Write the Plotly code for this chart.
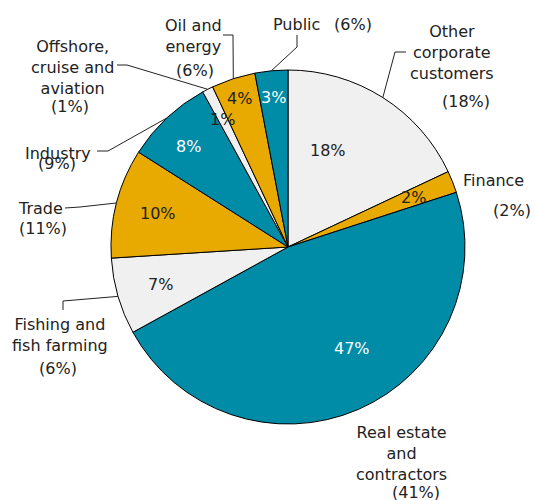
import math
import plotly.graph_objects as go

# ---- data ----
categories = ["Other corporate customers", "Finance", "Real estate and contractors",
              "Fishing and fish farming", "Trade", "Industry",
              "Offshore, cruise and aviation", "Oil and energy", "Public"]
share_now = [18, 2, 47, 7, 10, 8, 1, 4, 3]          # shown inside slices
share_prev = [18, 2, 41, 6, 11, 9, 1, 6, 6]         # shown in parentheses
label_lines = ["Other<br>corporate<br>customers", "Finance", "Real estate<br>and<br>contractors",
               "Fishing and<br>fish farming", "Trade", "Industry",
               "Offshore,<br>cruise and<br>aviation", "Oil and<br>energy", "Public"]

# ---- style ----
TEAL, ORANGE, GREY = "#008BA6", "#E8A900", "#F0F0F0"
colors = [GREY, ORANGE, TEAL, GREY, ORANGE, TEAL, GREY, ORANGE, TEAL]
inside_font_col = ["#222", "#222", "white", "#222", "#222", "white", "#222", "#222", "white"]
FONT = "DejaVu Sans"
FS = 16
W, H = 535, 500
CX, CY, R = 288, 247, 177   # pie centre / radius in pixels

def px(x):
    return x / W

def py(y):
    return 1 - y / H

fig = go.Figure(go.Pie(
    labels=categories, values=share_now, sort=False, direction="clockwise",
    rotation=0, marker=dict(colors=colors, line=dict(color="black", width=1)),
    textinfo="none", hoverinfo="skip", showlegend=False,
    domain=dict(x=[px(CX - R), px(CX + R)], y=[py(CY + R), py(CY - R)]),
))

total = sum(share_now)
cum = 0
mids = []
for v in share_now:
    mids.append((cum + v / 2) / total * 360)
    cum += v

# inside labels: radius factor and angular tweak
in_rad = [0.59, 0.76, 0.68, 0.75, 0.76, 0.80, 0.81, 0.88, 0.85]
in_dang = [-10, 0, -8.7, 0, 0, -1.5, 0, 0, 0]

ann = []
for i, v in enumerate(share_now):
    a = math.radians(mids[i] + in_dang[i])
    x = CX + in_rad[i] * R * math.sin(a)
    y = CY - in_rad[i] * R * math.cos(a)
    ann.append(dict(x=px(x), y=py(y), xref="paper", yref="paper", text=f"{v}%",
                    showarrow=False, font=dict(family=FONT, size=FS, color=inside_font_col[i]),
                    xanchor="center", yanchor="middle"))

# outer labels (pixel centres of name block and of the percentage)
name_pos = [(452, 53), (493, 180), (401, 453), (60, 335), (40, 209),
            (58, 153), (72, 67), (193, 36), (296, 24)]
pct_pos = [(466, 102), (512, 211), (416, 492), (58, 368), (43, 229),
           (57, 163), (70, 107), (195, 70), (353, 24)]
for i in range(len(categories)):
    nx, ny = name_pos[i]
    ann.append(dict(x=px(nx), y=py(ny), xref="paper", yref="paper", text=label_lines[i],
                    showarrow=False, font=dict(family=FONT, size=FS, color="#222"),
                    xanchor="center", yanchor="middle", align="center"))
    qx, qy = pct_pos[i]
    ann.append(dict(x=px(qx), y=py(qy), xref="paper", yref="paper", text=f"({share_prev[i]}%)",
                    showarrow=False, font=dict(family=FONT, size=FS, color="#222"),
                    xanchor="center", yanchor="middle"))

# leader lines: elbow and end points (None = no leader)
leaders = [[(395, 52), (406, 52)], None, None, [(63, 301), (63, 310)],
           [(80, 207), (65, 208)], [(108, 151), (97, 151)],
           [(127, 65), (117, 65)], [(233, 35), (223, 35)], [(297, 47), (297, 35)]]
shapes = []
for i, pts in enumerate(leaders):
    if not pts:
        continue
    a = math.radians(mids[i])
    sx = CX + R * math.sin(a)
    sy = CY - R * math.cos(a)
    path = f"M {px(sx)} {py(sy)}"
    for (x, y) in pts:
        path += f" L {px(x)} {py(y)}"
    shapes.append(dict(type="path", path=path, xref="paper", yref="paper",
                       line=dict(color="#222", width=1)))

fig.update_layout(width=W, height=H, margin=dict(l=0, r=0, t=0, b=0),
                  paper_bgcolor="white", plot_bgcolor="white",
                  annotations=ann, shapes=shapes, font=dict(family=FONT, size=FS))
fig.write_html("out.html", config={"displayModeBar": False},
               post_script="document.body.style.margin='0';document.body.style.overflow='hidden';")
